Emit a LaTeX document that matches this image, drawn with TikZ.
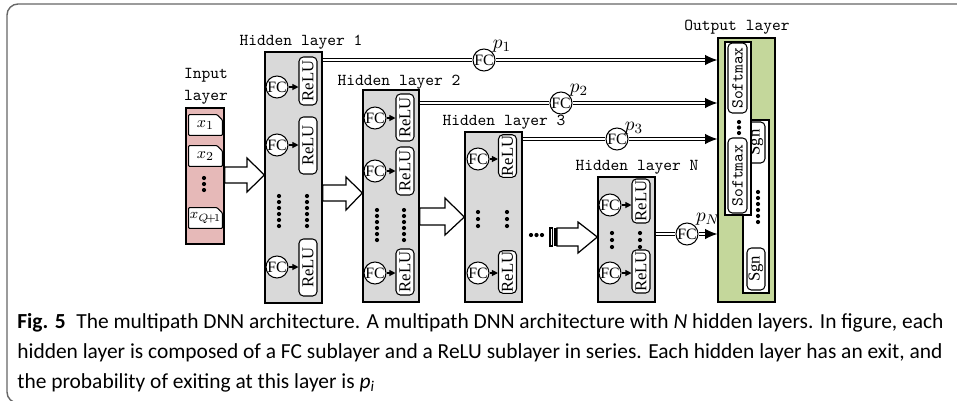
\documentclass[tikz,border=0pt]{standalone}
\usepackage{fontspec}
\setmainfont{Liberation Serif}
\newfontfamily\capfont{Carlito}
\usetikzlibrary{arrows.meta}

\definecolor{inpink}{HTML}{E6B9B8}
\definecolor{hidgray}{HTML}{D9D9D9}
\definecolor{outgreen}{HTML}{C4D79B}

\tikzset{
	layer/.style={draw, line width=0.8pt, inner sep=0pt},
	lbl/.style={font=\fontsize{9.5}{12.5}\selectfont\ttfamily, align=center},
	fc/.style={draw, circle, fill=white, line width=0.6pt, minimum size=0.42cm, inner sep=0pt, font=\fontsize{9}{9}\selectfont},
	relu/.style={draw, rounded corners=2.5pt, fill=white, rotate=90, line width=0.6pt, minimum height=0.36cm, inner sep=0.5pt, font=\fontsize{9.5}{9.5}\selectfont},
	xin/.style={minimum width=0.66cm, minimum height=0.4cm, inner sep=0pt, font=\fontsize{9.5}{9.5}\selectfont},
	bigarr/.style={draw, fill=white, line width=0.7pt},
	smallarr/.style={-{Triangle[length=3.5pt,width=3.5pt]}, line width=0.6pt},
	exitl/.style={double, double distance=1.6pt, line width=0.6pt},
	plbl/.style={font=\fontsize{11}{11}\selectfont},
	dot/.style={fill=black}
}

\begin{document}
\begin{tikzpicture}[x=0.02cm, y=-0.02cm]
	\useasboundingbox (0,0) rectangle (957,400);
	% frame
	\draw[black!60, line width=0.8pt, rounded corners=0.22cm] (958,4) -- (7,4) -- (7,403) -- (40,403);

	% input layer
	\node[lbl] (inlbl) at (206,86) {Input\\layer};
	\node[layer, fill=inpink, minimum width=0.76cm, minimum height=2.72cm] (in) at (205,176) {};
	\node[xin] (x1) at (205.5,125) {};
	\node[xin] (x2) at (205.5,156) {};
	\node[xin] (xq) at (205.5,218) {};
	\foreach \b in {x1,x2,xq}
		\draw[fill=white, line width=0.6pt, rounded corners=0.5pt] (\b.south west) -- (\b.north west) -- ([xshift=-3pt]\b.north east) -- ([yshift=-3pt]\b.north east) -- (\b.south east) -- cycle;
	\node[xin] at (x1) {$x_{1}$};
	\node[xin] at (x2) {$x_{2}$};
	\node[xin, font=\fontsize{8.5}{8.5}\selectfont] at (xq) {$x_{Q\!+\!1}$};
	\foreach \y in {178,184,190} \fill[dot] (204,\y) circle (1.2pt);

	% hidden layer 1
	\node[lbl] (h1lbl) at (301,42) {Hidden layer 1};
	\node[layer, fill=hidgray, minimum width=1.14cm, minimum height=5.02cm] (h1) at (293.5,177.5) {};
	\node[fc] (f11) at (277,87) {FC};
	\node[fc] (f12) at (277,145) {FC};
	\node[fc] (f13) at (277,267) {FC};
	\node[relu, minimum width=0.96cm] (r11) at (308,81) {ReLU};
	\node[relu, minimum width=1.14cm] (r12) at (308,145.5) {ReLU};
	\node[relu, minimum width=1.14cm] (r13) at (308,267.5) {ReLU};
	\foreach \y in {196,202,...,226} {
		\fill[dot] (279,\y) circle (1.2pt);
		\fill[dot] (307,\y) circle (1.2pt);
	}

	% hidden layer 2
	\node[lbl] (h2lbl) at (399,82) {Hidden layer 2};
	\node[layer, fill=hidgray, minimum width=1.12cm, minimum height=4.24cm] (h2) at (391,196) {};
	\node[fc] (f21) at (375,118) {FC};
	\node[fc] (f22) at (375,171) {FC};
	\node[fc] (f23) at (375,273) {FC};
	\node[relu, minimum width=0.94cm] (r21) at (405,117.5) {ReLU};
	\node[relu, minimum width=0.96cm] (r22) at (405,171) {ReLU};
	\node[relu, minimum width=0.92cm] (r23) at (405,272) {ReLU};
	\foreach \y in {210,216,...,240} {
		\fill[dot] (377,\y) circle (1.2pt);
		\fill[dot] (404,\y) circle (1.2pt);
	}

	% hidden layer 3
	\node[lbl] (h3lbl) at (504,122) {Hidden layer 3};
	\node[layer, fill=hidgray, minimum width=1.14cm, minimum height=3.40cm] (h3) at (493.5,217) {};
	\node[fc] (f31) at (478,159) {FC};
	\node[fc] (f32) at (478,273) {FC};
	\node[relu, minimum width=0.8cm] (r31) at (507.5,156) {ReLU};
	\node[relu, minimum width=0.8cm] (r32) at (507.5,272) {ReLU};
	\foreach \y in {212,219,226} {
		\fill[dot] (478,\y) circle (1.2pt);
		\fill[dot] (507,\y) circle (1.2pt);
	}

	% hidden layer N
	\node[lbl] (hnlbl) at (637,167) {Hidden layer N};
	\node[layer, fill=hidgray, minimum width=1.14cm, minimum height=2.50cm] (hn) at (626.5,239.5) {};
	\node[fc] (f41) at (610,205) {FC};
	\node[fc] (f42) at (610,273) {FC};
	\node[relu, minimum width=0.88cm] (r41) at (641,201) {ReLU};
	\node[relu, minimum width=0.86cm] (r42) at (641,271.5) {ReLU};
	\foreach \y in {233,240,247} {
		\fill[dot] (612,\y) circle (1.2pt);
		\fill[dot] (640,\y) circle (1.2pt);
	}

	% FC -> ReLU
	\foreach \f/\r in {f11/r11,f12/r12,f13/r13,f21/r21,f22/r22,f23/r23,f31/r31,f32/r32,f41/r41,f42/r42}
		\draw[smallarr] (\f.east) -- (\f.east -| \r.north);

	% output layer
	\node[lbl] (outlbl) at (737,27) {Output layer};
	\node[layer, fill=outgreen, minimum width=1.14cm, minimum height=5.28cm] (out) at (746.5,170) {};
	\node[layer, fill=white, line width=0.6pt, minimum width=0.52cm, minimum height=3.46cm] (sgnbox) at (756,206.5) {};
	\node[relu, minimum width=0.82cm] (g1) at (756,142.5) {Sgn};
	\node[relu, minimum width=0.84cm] (g2) at (756,269) {Sgn};
	\foreach \y in {192,198,...,222} \fill[dot] (758,\y) circle (1.2pt);
	\node[layer, fill=white, line width=0.6pt, minimum width=0.52cm, minimum height=3.46cm] (smxbox) at (738,128.5) {};
	\node[relu, minimum width=1.4cm, minimum height=0.38cm, font=\fontsize{9.5}{9.5}\selectfont\ttfamily] (s1) at (737.5,78) {Softmax};
	\node[relu, minimum width=1.5cm, minimum height=0.38cm, font=\fontsize{9.5}{9.5}\selectfont\ttfamily] (s2) at (737.5,175.5) {Softmax};
	\foreach \y in {122,127.5,133} \fill[dot] (739,\y) circle (1.2pt);

	% block arrows between layers
	\draw[bigarr] (in.east |- 0,167) -- (247,167) -- (247,158) -- (h1.west |- 0,175) -- (247,192) -- (247,183) -- (in.east |- 0,183) -- cycle;
	\draw[bigarr] (h1.east |- 0,185) -- (346,185) -- (346,177) -- (h2.west |- 0,193) -- (346,210) -- (346,201) -- (h1.east |- 0,201) -- cycle;
	\draw[bigarr] (h2.east |- 0,208) -- (445,208) -- (445,198) -- (h3.west |- 0,217) -- (445,235) -- (445,225) -- (h2.east |- 0,225) -- cycle;
	\foreach \x in {531,536.5,542} \fill[dot] (\x,235) circle (1.2pt);
	\draw[bigarr] (557,228) -- (578,228) -- (578,222) -- (hn.west |- 0,237) -- (578,253) -- (578,246) -- (557,246) -- cycle;
	\draw[line width=0.6pt] (550,228) rectangle (552.5,246);
	\fill (554,228) rectangle (557,246);

	% exits
	\node[fc] (e1) at (484,60) {FC};
	\node[fc] (e2) at (561,103) {FC};
	\node[fc] (e3) at (617,139) {FC};
	\node[fc] (e4) at (687,234) {FC};
	\node[plbl] (p1) at (502,46) {$p_{1}$};
	\node[plbl] (p2) at (579,90) {$p_{2}$};
	\node[plbl] (p3) at (634,128) {$p_{3}$};
	\node[plbl] (p4) at (708,219) {$p_{N}$};
	\foreach \h/\e in {h1/e1,h2/e2,h3/e3,hn/e4} {
		\draw[exitl] (\h.east |- \e) -- (\e);
		\draw[exitl, -{Latex[length=7pt,width=6pt]}] (\e) -- (out.west |- \e);
	}

	% caption
	\node[anchor=north west, align=left, inner sep=0pt, font=\capfont\fontsize{12.2}{17}\selectfont] (cap) at (17,313)
		{\textbf{Fig. 5}\enspace The multipath DNN architecture. A multipath DNN architecture with \textit{N} hidden layers. In figure, each\\
		hidden layer is composed of a FC sublayer and a ReLU sublayer in series. Each hidden layer has an exit, and\\
		the probability of exiting at this layer is \textit{p}\textsubscript{\textit{i}}};
\end{tikzpicture}
\end{document}
